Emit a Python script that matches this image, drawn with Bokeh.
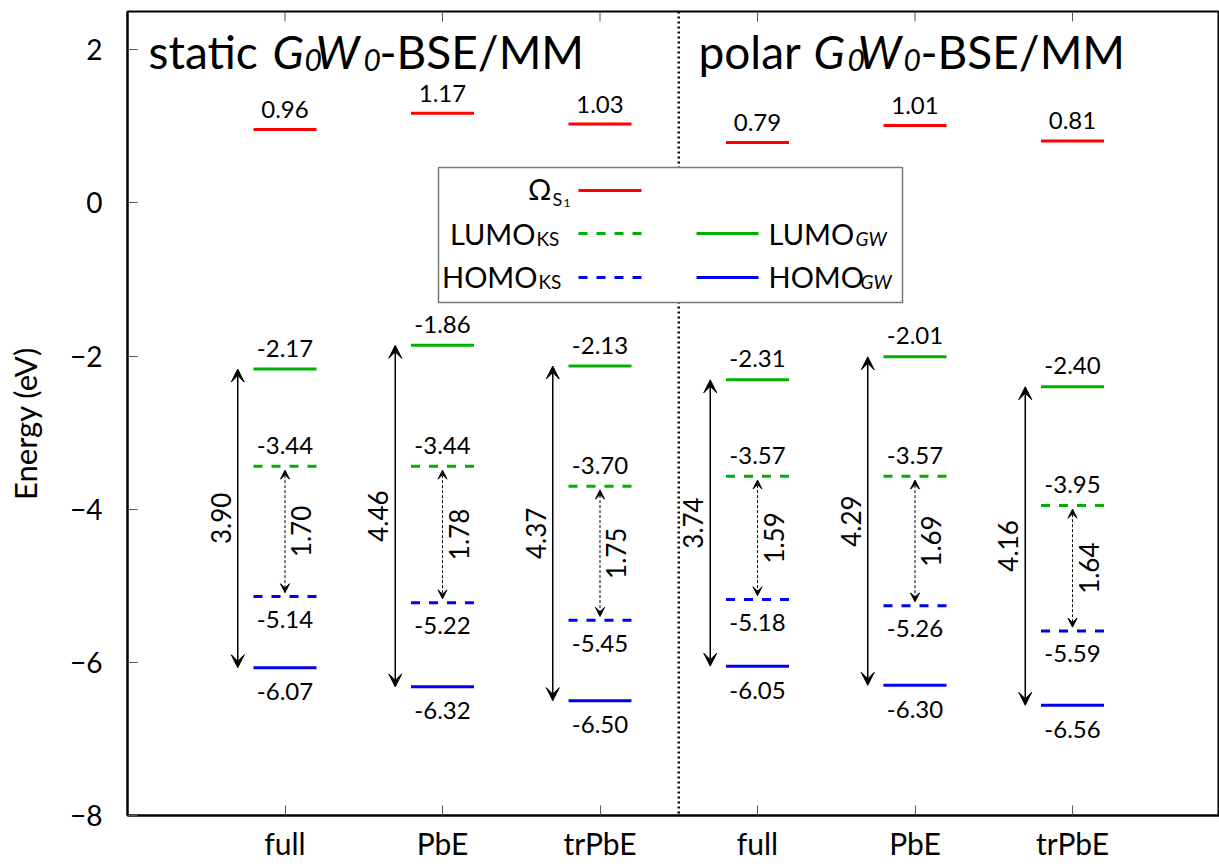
import math
from bokeh.plotting import figure
from bokeh.layouts import row
from bokeh.models import Range1d, FixedTicker, Arrow, VeeHead, Span, ColumnDataSource
from bokeh.core.properties import value
from bokeh.embed import file_html
from bokeh.resources import INLINE

# ---------------- data ----------------
groups = ["full", "PbE", "trPbE", "full", "PbE", "trPbE"]
positions = [1, 2, 3, 4, 5, 6]
omega_s1 = [0.96, 1.17, 1.03, 0.79, 1.01, 0.81]
lumo_gw = [-2.17, -1.86, -2.13, -2.31, -2.01, -2.40]
lumo_ks = [-3.44, -3.44, -3.70, -3.57, -3.57, -3.95]
homo_ks = [-5.14, -5.22, -5.45, -5.18, -5.26, -5.59]
homo_gw = [-6.07, -6.32, -6.50, -6.05, -6.30, -6.56]
gap_gw_labels = ["3.90", "4.46", "4.37", "3.74", "4.29", "4.16"]
gap_ks_labels = ["1.70", "1.78", "1.75", "1.59", "1.69", "1.64"]
y_ticks = [-8, -6, -4, -2, 0, 2]
panel_words = ["static", "polar"]
y_title = "Energy (eV)"

FONT = "Lato"
RED, GREEN, BLUE = "#ff0000", "#00b000", "#0000ee"

# frame geometry (page pixels) used only to place layout text
FR_L, FR_T, FR_B, FR_R = 127, 11, 815, 1219
W_PX, H_PX = 1219, 867
LEFT_W = 60  # width of the strip that carries the y-axis title
Y_MIN, Y_MAX = -8, 2.5
PPX = 157.5
PPU = (FR_B - FR_T) / (Y_MAX - Y_MIN)
BASE_FIX = -9  # baseline correction (px) for alphabetic text in the svg output


def X(px):
    return (px - FR_L) / PPX


def Y(py):
    return Y_MAX - (py - FR_T) / PPU


HALF = 0.2

# ---------- left strip with the y-axis title ----------
lp = figure(width=LEFT_W, height=H_PX, x_range=Range1d(0, LEFT_W), y_range=Range1d(Y_MIN, Y_MAX),
            output_backend="svg", toolbar_location=None, x_axis_type=None, y_axis_type=None,
            min_border_left=0, min_border_right=0, min_border_top=FR_T, min_border_bottom=H_PX - FR_B)
lp.outline_line_color = None
lp.grid.visible = False
lp.text(x=[24], y=[Y(423)], text=[y_title], angle=math.pi / 2, text_font=value(FONT),
        text_font_size="31px", text_align="center", text_baseline="middle", text_color="black")

# ---------- main plot ----------
p = figure(width=W_PX - LEFT_W, height=H_PX, x_range=Range1d(0, X(FR_R)), y_range=Range1d(Y_MIN, Y_MAX),
           output_backend="svg", toolbar_location=None,
           min_border_left=FR_L - LEFT_W, min_border_right=W_PX - FR_R, min_border_top=FR_T,
           min_border_bottom=H_PX - FR_B)
p.grid.visible = False
p.outline_line_color = "black"
p.outline_line_width = 2

# axes
p.xaxis.ticker = FixedTicker(ticks=positions)
p.xaxis.major_label_overrides = {pos: g for pos, g in zip(positions, groups)}
p.yaxis.ticker = FixedTicker(ticks=y_ticks)
p.yaxis.major_label_overrides = {t: (str(t).replace("-", "\u2212")) for t in y_ticks}
for ax in (p.xaxis, p.yaxis):
    ax.major_tick_in = 10
    ax.major_tick_out = 0
    ax.minor_tick_line_color = None
    ax.major_tick_line_color = "#555555"
    ax.axis_line_color = "black"
    ax.axis_line_width = 2
    ax.major_label_text_font = FONT
    ax.major_label_text_color = "black"
p.xaxis.major_label_text_font_size = "30px"
p.xaxis.major_label_standoff = 9
p.yaxis.major_label_text_font_size = "28px"
p.yaxis.major_label_standoff = 25

# separator between panels
p.add_layout(Span(location=3.5, dimension="height", line_color="black", line_width=2.5,
                  line_dash="2 3", level="underlay"))

# top mirror ticks
p.segment(x0=positions, y0=[Y_MAX] * 6, x1=positions, y1=[Y(21)] * 6,
          line_color="#555555", line_width=1)

# energy levels
x0 = [c - HALF for c in positions]
x1 = [c + HALF for c in positions]
p.segment(x0=x0, x1=x1, y0=omega_s1, y1=omega_s1, line_color=RED, line_width=3)
p.segment(x0=x0, x1=x1, y0=lumo_gw, y1=lumo_gw, line_color=GREEN, line_width=3)
p.segment(x0=x0, x1=x1, y0=lumo_ks, y1=lumo_ks, line_color=GREEN, line_width=3, line_dash="9 9")
p.segment(x0=x0, x1=x1, y0=homo_ks, y1=homo_ks, line_color=BLUE, line_width=3, line_dash="9 9")
p.segment(x0=x0, x1=x1, y0=homo_gw, y1=homo_gw, line_color=BLUE, line_width=3)

vals_kw = dict(text_font=value(FONT), text_font_size="24px", text_align="center",
               text_baseline="alphabetic", text_color="black")
for series, off in ((omega_s1, -11), (lumo_gw, -12), (lumo_ks, -12), (homo_ks, 32), (homo_gw, 33)):
    p.text(x=positions, y=series, text=[f"{v:.2f}" for v in series], y_offset=off + BASE_FIX, **vals_kw)

# gap arrows
gw_src = ColumnDataSource(dict(x=[c - 0.3 for c in positions], y0=lumo_gw, y1=homo_gw))
p.add_layout(Arrow(x_start="x", y_start="y0", x_end="x", y_end="y1", source=gw_src,
                   line_color="black", line_width=1.5,
                   start=VeeHead(size=13, fill_color="black", line_color="black"),
                   end=VeeHead(size=13, fill_color="black", line_color="black")))
ks_src = ColumnDataSource(dict(x=positions, y0=[v - 0.05 for v in lumo_ks], y1=[v + 0.05 for v in homo_ks]))
p.add_layout(Arrow(x_start="x", y_start="y0", x_end="x", y_end="y1", source=ks_src,
                   line_color="black", line_width=1, line_dash="3 2",
                   start=VeeHead(size=9, fill_color="black", line_color="black", line_width=1),
                   end=VeeHead(size=9, fill_color="black", line_color="black", line_width=1)))

rot_kw = dict(text_font=value(FONT), text_font_size="26px", text_align="center",
              text_baseline="middle", text_color="black", angle=math.pi / 2)
p.text(x=[c - 0.3 for c in positions], y=[(a + b) / 2 for a, b in zip(lumo_gw, homo_gw)],
       text=gap_gw_labels, x_offset=-17, **rot_kw)
p.text(x=positions, y=[(a + b) / 2 for a, b in zip(lumo_ks, homo_ks)],
       text=gap_ks_labels, x_offset=16, **rot_kw)


# ---------------- panel titles ----------------
def txt(px, py, s, size, style="normal", align="left"):
    p.text(x=[X(px)], y=[Y(py)], text=[s], text_font=value(FONT), text_font_size=f"{size}px",
           text_font_style=style, text_align=align, text_baseline="alphabetic", text_color="black",
           y_offset=BASE_FIX)


title_x = [(148, 272, 304, 315, 363, 379), (698, 813, 847, 857, 903, 920)]
for word, (xw, xg, xs1, xw2, xs2, xb) in zip(panel_words, title_x):
    txt(xw, 60, word, 46)
    txt(xg, 60, "G", 46, "italic")
    txt(xs1, 68, "0", 30, "italic")
    txt(xw2, 60, "W", 46, "italic")
    txt(xs2, 68, "0", 30, "italic")
    txt(xb, 60, "-BSE/MM", 46)

# ---------------- legend ----------------
p.quad(left=[X(438)], right=[X(902)], top=[Y(167)], bottom=[Y(302)],
       fill_color="white", line_color="#777777", line_width=1.5)
leg_rows = [190, 233, 277]
p.segment(x0=[X(578)], x1=[X(641)], y0=[Y(leg_rows[0])], y1=[Y(leg_rows[0])], line_color=RED, line_width=3)
p.segment(x0=[X(578)], x1=[X(641)], y0=[Y(leg_rows[1])], y1=[Y(leg_rows[1])], line_color=GREEN,
          line_width=3, line_dash="9 9")
p.segment(x0=[X(578)], x1=[X(641)], y0=[Y(leg_rows[2])], y1=[Y(leg_rows[2])], line_color=BLUE,
          line_width=3, line_dash="9 9")
p.segment(x0=[X(696)], x1=[X(758)], y0=[Y(leg_rows[1])], y1=[Y(leg_rows[1])], line_color=GREEN, line_width=3)
p.segment(x0=[X(696)], x1=[X(758)], y0=[Y(leg_rows[2])], y1=[Y(leg_rows[2])], line_color=BLUE, line_width=3)

txt(551, 197, "\u03a9", 29, align="right")
txt(552, 207, "S", 18)
txt(563, 211, "1", 12)
txt(535, 242, "LUMO", 29, align="right")
txt(536, 247, "KS", 19)
txt(537, 285, "HOMO", 29, align="right")
txt(538, 290, "KS", 19)
txt(768, 242, "LUMO", 29)
txt(855, 247, "GW", 19, "italic")
txt(768, 285, "HOMO", 29)
txt(860, 290, "GW", 19, "italic")

layout = row(lp, p)
open("out.html", "w").write(file_html(layout, INLINE))
